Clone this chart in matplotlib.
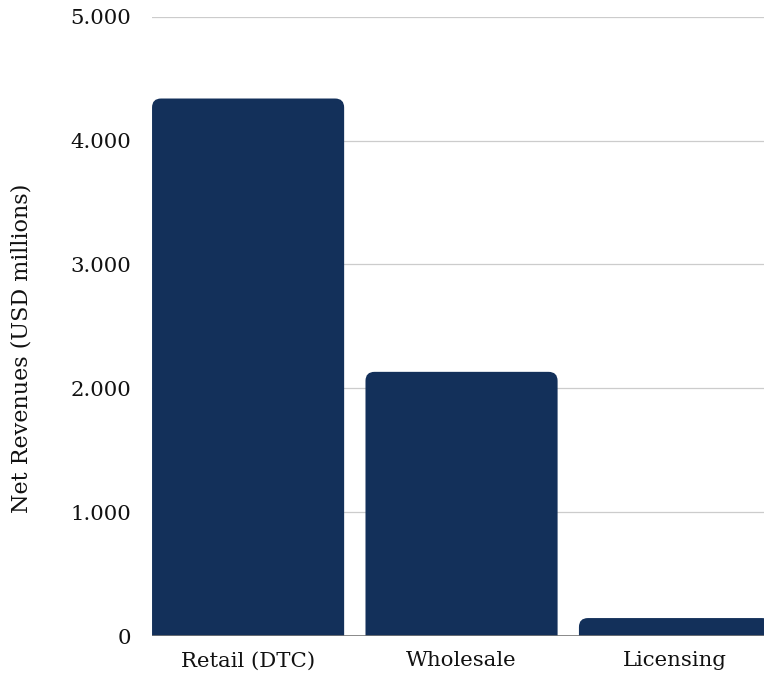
import matplotlib
matplotlib.use('Agg')
import matplotlib.pyplot as plt
from matplotlib.patches import FancyBboxPatch
from matplotlib.ticker import FuncFormatter

plt.rcParams['font.family'] = ['DejaVu Serif']

categories = ['Retail (DTC)', 'Wholesale', 'Licensing']
revenues = [4340, 2133, 145]
yticks = [0, 1000, 2000, 3000, 4000, 5000]

bar_color = '#13305a'
width = 0.9

fig = plt.figure(figsize=(7.64, 6.79), dpi=100)
ax = fig.add_axes([0.199, 0.0633, 0.801, 0.912])

ax.set_xlim(-0.45, 2.417)
ax.set_ylim(0, 5000)

# rounded top corners: boxes extend below zero, bottom corners get clipped
x_per_px = (2.417 + 0.45) / (0.801 * 764)
y_per_px = 5000 / (0.912 * 679)
r = 9 * x_per_px
for i, v in enumerate(revenues):
    patch = FancyBboxPatch((i - width / 2, -300), width, v + 300,
                           boxstyle='round,pad=0,rounding_size=%f' % r,
                           mutation_aspect=y_per_px / x_per_px,
                           facecolor=bar_color, edgecolor='none', zorder=3)
    ax.add_patch(patch)

ax.set_xticks(range(len(categories)))
ax.set_xticklabels(categories)
ax.set_yticks(yticks)
ax.yaxis.set_major_formatter(FuncFormatter(lambda v, p: f'{int(v):,}'.replace(',', '.')))

ax.grid(axis='y', color='#cccccc', lw=0.9, zorder=0)
ax.axhline(0, color='#777777', lw=1.2, zorder=4)

for s in ax.spines.values():
    s.set_visible(False)
ax.tick_params(length=0, labelsize=15.3, colors='#111111')
ax.tick_params(axis='y', pad=15)
ax.tick_params(axis='x', pad=11)

ax.set_ylabel('Net Revenues (USD millions)', fontsize=16, color='#111111')
ax.yaxis.set_label_coords(-0.196, 0.464)

fig.savefig('out.png', dpi=100)
